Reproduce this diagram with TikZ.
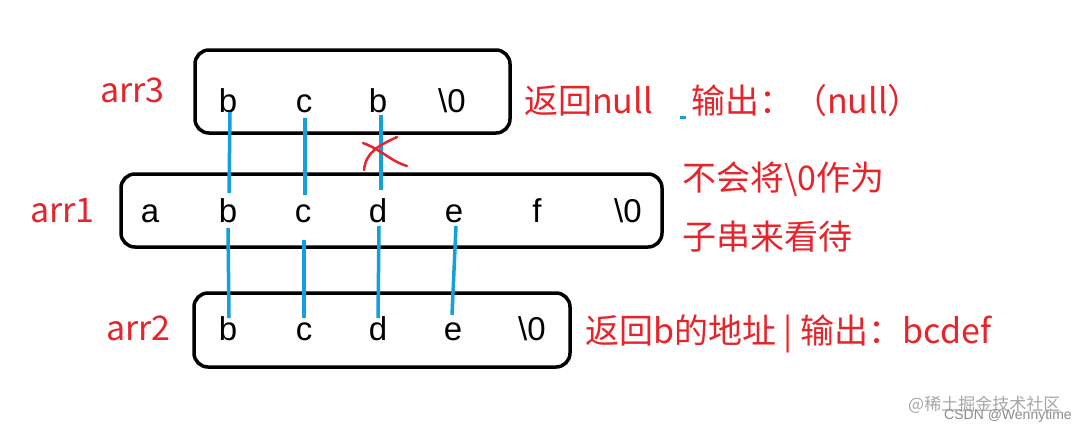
\documentclass[tikz,border=0pt]{standalone}
\usepackage{fontspec}
\setmainfont{Liberation Sans}
\newfontfamily\cjk{Noto Sans CJK SC}
\begin{document}
\begin{tikzpicture}[x=1pt,y=-1pt,
  box/.style={draw=black,line width=3.5pt,rounded corners=14pt},
  ch/.style={font=\fontsize{33}{35}\selectfont,anchor=base,inner sep=0pt},
  lab/.style={font=\cjk\fontsize{34}{37}\selectfont,text=myred,anchor=base west,inner sep=0pt},
  link/.style={draw=myblue,line width=3.5pt}]
\definecolor{myred}{HTML}{E8242B}
\definecolor{myblue}{HTML}{14A0DC}
\useasboundingbox[fill=white] (0,0) rectangle (1086,432);
\draw[box] (195,50) rectangle (510,133);
\draw[box] (121,174) rectangle (662,247);
\draw[box] (194,293) rectangle (570,367);
% arr3
\node[ch] (t1) at (228,112) {b};
\node[ch] (t2) at (304,112) {c};
\node[ch] (t3) at (378,112) {b};
\node[ch] (t4) at (452,112) {\textbackslash 0};
% arr1
\node[ch] (m1) at (150,222) {a};
\node[ch] (m2) at (228,222) {b};
\node[ch] (m3) at (303,222) {c};
\node[ch] (m4) at (378,222) {d};
\node[ch] (m5) at (454,222) {e};
\node[ch] (m6) at (537,222) {f};
\node[ch] (m7) at (628,222) {\textbackslash 0};
% arr2
\node[ch] (b1) at (228,340) {b};
\node[ch] (b2) at (304,340) {c};
\node[ch] (b3) at (378,340) {d};
\node[ch] (b4) at (453,340) {e};
\node[ch] (b5) at (532,340) {\textbackslash 0};
% links
\coordinate (u1) at (230,112); \coordinate (v1) at (229,193);
\coordinate (u2) at (305,118); \coordinate (v2) at (305,195);
\coordinate (u3) at (381,115); \coordinate (v3) at (381,190);
\draw[link] (u1) -- (v1); \draw[link] (u2) -- (v2); \draw[link] (u3) -- (v3);
\coordinate (p1) at (228,228); \coordinate (q1) at (229,318);
\coordinate (p2) at (304,240); \coordinate (q2) at (304,318);
\coordinate (p3) at (379,226); \coordinate (q3) at (378,318);
\coordinate (p4) at (456,226); \coordinate (q4) at (452,315);
\draw[link] (p1) -- (q1); \draw[link] (p2) -- (q2); \draw[link] (p3) -- (q3); \draw[link] (p4) -- (q4);
\coordinate (dsh1) at (680,117); \coordinate (dsh2) at (686,117);
\draw[myblue,line width=3pt] (dsh1) -- (dsh2);
% cross
\draw[myred,line width=2.5pt,line cap=round] (363,143) .. controls (382,150) and (392,162) .. (407,166);
\draw[myred,line width=2.5pt,line cap=round] (397,137) .. controls (378,146) and (366,152) .. (364,170);
% labels
\node[lab] (a3) at (100,102) {arr3};
\node[lab] (a1) at (30,222) {arr1};
\node[lab] (a2) at (106,340) {arr2};
\node[lab] (l1) at (524,113) {返回null};
\node[lab] (l2) at (691,113) {输出：（null）};
\node[lab] (l3) at (682,190) {不会将\textbackslash 0作为};
\node[lab] (l4) at (682,249) {子串来看待};
\node[lab] (l5) at (585,343) {返回b的地址 | 输出：bcdef};
% watermark
\node[font=\cjk\fontsize{17}{18}\selectfont,text=black!35,anchor=base west,inner sep=0pt] (w1) at (908,410) {@稀土掘金技术社区};
\node[font=\fontsize{14}{15}\selectfont,text=black!45,anchor=base west,inner sep=0pt] (w2) at (944,419) {CSDN @Wennytime};
\end{tikzpicture}
\end{document}
